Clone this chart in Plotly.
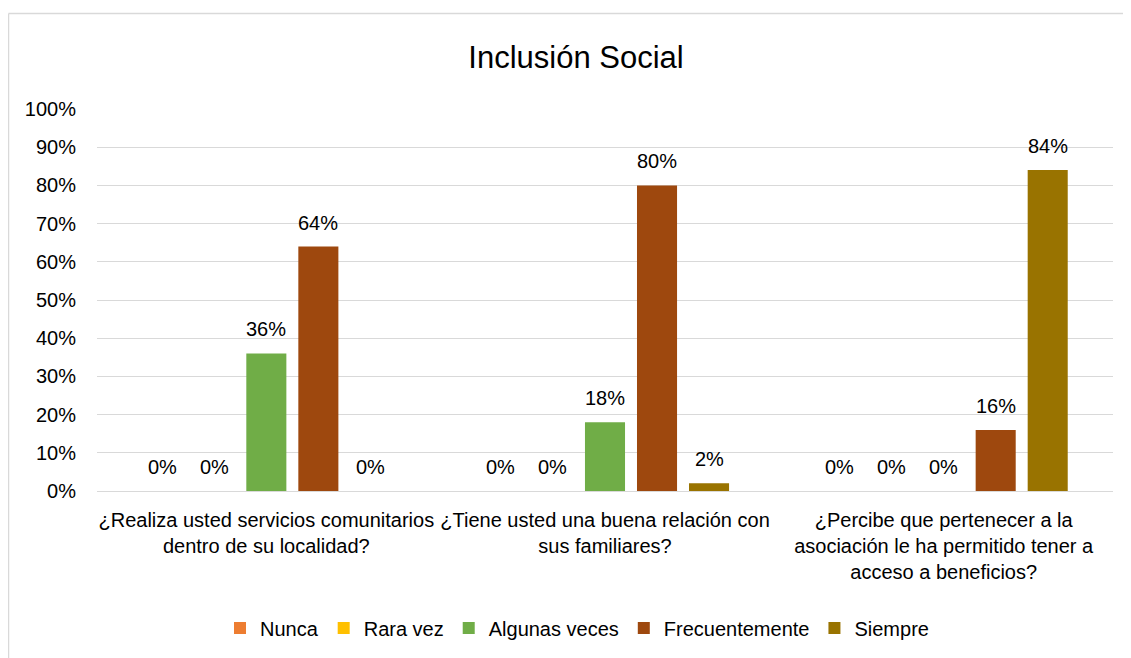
import plotly.graph_objects as go

categories = [
    "¿Realiza usted servicios comunitarios<br>dentro de su localidad?",
    "¿Tiene usted una buena relación con<br>sus familiares?",
    "¿Percibe que pertenecer a la<br>asociación le ha permitido tener a<br>acceso a beneficios?",
]
series_names = ["Nunca", "Rara vez", "Algunas veces", "Frecuentemente", "Siempre"]
nunca = [0, 0, 0]
rara_vez = [0, 0, 0]
algunas_veces = [36, 18, 0]
frecuentemente = [64, 80, 16]
siempre = [0, 2, 84]
y_ticks = [0, 10, 20, 30, 40, 50, 60, 70, 80, 90, 100]

series_values = [nunca, rara_vez, algunas_veces, frecuentemente, siempre]
colors = ["#ED7D31", "#FFC000", "#70AD47", "#9E480E", "#997300"]

FONT = "Liberation Sans, Arial, sans-serif"
FS = 20

OFF = 8  # page body margin
W, H = 1131 - OFF, 658 - OFF
# target plot area in page pixels
PL, PR, PT, PB = 97, 1113, 109, 491
ML, MT = PL - OFF, PT - OFF
MR = W - (PR - OFF)
MB = H - (PB - OFF)
plot_w = PR - PL
plot_h = PB - PT
bargap = 0.232
slot_px = plot_w / len(categories) * (1 - bargap) / len(series_names)


def px_x(px):
    return (px - PL) / plot_w


def px_y(py):
    return (PB - py) / plot_h


fig = go.Figure()
annotations = []
for j, (name, vals, col) in enumerate(zip(series_names, series_values, colors)):
    fig.add_trace(go.Bar(
        name=name, x=categories, y=vals, marker=dict(color=col, line=dict(width=0)),
        hoverinfo="x+y+name",
    ))
    for cat, v in zip(categories, vals):
        annotations.append(dict(
            x=cat, y=v, xref="x", yref="y", text=f"{v}%", showarrow=False,
            xshift=(j - 2) * slot_px, yshift=24, yanchor="middle",
            font=dict(family=FONT, size=FS, color="#000000"),
        ))

frame = dict(color="#d9d9d9", width=1.5)
fig.update_layout(
    width=W, height=H, autosize=False,
    margin=dict(l=ML, r=MR, t=MT, b=MB, autoexpand=False),
    paper_bgcolor="white", plot_bgcolor="white",
    barmode="group", bargap=bargap, bargroupgap=0.23,
    title=dict(text="Inclusión Social", xref="paper", x=px_x(576), xanchor="center",
               y=1 - (57 - OFF) / H, yanchor="middle",
               font=dict(family=FONT, size=31, color="#000000")),
    font=dict(family=FONT, size=FS, color="#000000"),
    legend=dict(orientation="h", x=px_x(577), xanchor="center", y=px_y(628), yanchor="middle",
                font=dict(family=FONT, size=FS, color="#000000"), traceorder="normal"),
    annotations=annotations,
    shapes=[
        dict(type="line", xref="paper", yref="paper", x0=px_x(8.5), x1=px_x(1135),
             y0=px_y(13.5), y1=px_y(13.5), line=frame, layer="below"),
        dict(type="line", xref="paper", yref="paper", x0=px_x(8.5), x1=px_x(8.5),
             y0=px_y(13.5), y1=px_y(700), line=frame, layer="below"),
    ],
    xaxis=dict(showgrid=False, showline=False, ticks="", tickangle=0, automargin=False,
               ticklabelstandoff=15, tickfont=dict(family=FONT, size=FS)),
    yaxis=dict(range=[0, 100], tickvals=y_ticks, ticktext=[f"{t}%" for t in y_ticks],
               showgrid=True, gridcolor="#d9d9d9", gridwidth=1.3, zeroline=True,
               zerolinecolor="#d9d9d9", zerolinewidth=1.3, showline=False, ticks="",
               automargin=False, ticklabelstandoff=20, tickfont=dict(family=FONT, size=FS)),
)

fig.write_html("out.html")
